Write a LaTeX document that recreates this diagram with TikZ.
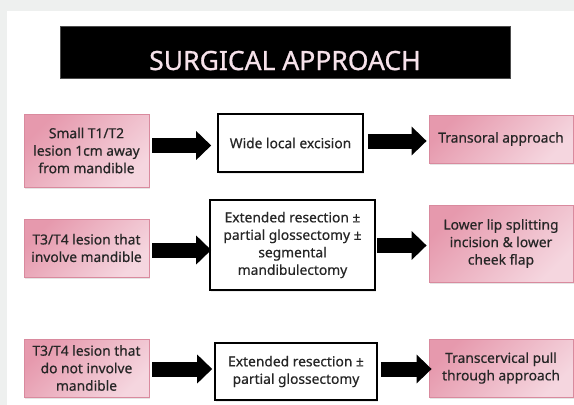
\documentclass[tikz,border=0pt]{standalone}
\usepackage{fontspec}
\setmainfont{Noto Sans}
\newfontfamily\heavyfont{Noto Sans}[FakeBold=0.5]
\newfontfamily\titlefont{Noto Sans}[FakeBold=0.8]
\usetikzlibrary{arrows.meta,shadows,calc}
\definecolor{bggray}{HTML}{EEF0EF}
\definecolor{pinkdark}{HTML}{E699AD}
\definecolor{pinklight}{HTML}{F5D6DF}
\definecolor{pinkborder}{HTML}{D98A9E}
\definecolor{titletext}{HTML}{F6E2EA}
\definecolor{boxtext}{HTML}{262626}
\begin{document}
\begin{tikzpicture}[x=1pt,y=-1pt,
  pinkbox/.style={draw=pinkborder, line width=0.8pt, top color=pinkdark, bottom color=pinklight, shading angle=45,
    drop shadow={shadow xshift=1pt, shadow yshift=-1.5pt, opacity=0.2},
    inner sep=0pt, align=center, font=\heavyfont\fontsize{13.8}{17.5}\selectfont, text=boxtext},
  whitebox/.style={draw=black, line width=1.6pt, fill=white,
    drop shadow={shadow xshift=1pt, shadow yshift=-1.5pt, opacity=0.15},
    inner sep=0pt, align=center, font=\heavyfont\fontsize{13.8}{17.5}\selectfont, text=boxtext},
  blk/.style={line width=15pt, black, -{Triangle[length=15pt,width=28pt]}}]
\useasboundingbox (0,0) rectangle (574,405);
\fill[bggray] (0,0) rectangle (574,405);
\fill[white] (7,11) rectangle (574,405);
% title
\node[fill=black, draw=black!70, line width=0.5pt, minimum width=450pt, minimum height=52pt, inner sep=0pt,
  text height=40pt, text depth=4pt,
  text=titletext, font=\titlefont\fontsize{26.5}{30}\selectfont] (title) at (285,52) {SURGICAL APPROACH};
% row 1
\node[pinkbox, minimum width=125pt, minimum height=73pt] (L1) at (86.5,150.5) {Small T1/T2\\lesion 1cm away\\from mandible};
\node[whitebox, minimum width=145pt, minimum height=58pt] (M1) at (290.5,143) {Wide local excision};
\node[pinkbox, minimum width=144pt, minimum height=48pt] (R1) at (501,139) {Transoral approach};
% row 2
\node[pinkbox, minimum width=125pt, minimum height=58pt] (L2) at (86.5,248) {T3/T4 lesion that\\involve mandible};
\node[whitebox, minimum width=165pt, minimum height=90pt] (M2) at (292.5,245) {Extended resection ±\\partial glossectomy ±\\segmental\\mandibulectomy};
\node[pinkbox, minimum width=144pt, minimum height=77pt] (R2) at (501,243.5) {Lower lip splitting\\incision \& lower\\cheek flap};
% row 3
\node[pinkbox, minimum width=125pt, minimum height=58pt] (L3) at (86.5,368) {T3/T4 lesion that\\do not involve\\mandible};
\node[whitebox, minimum width=162pt, minimum height=57pt] (M3) at (296,371.5) {Extended resection ±\\partial glossectomy};
\node[pinkbox, minimum width=144pt, minimum height=58pt] (R3) at (501,368) {Transcervical pull\\through approach};
% arrows
\coordinate (a1) at (0,145.5);
\coordinate (a2) at (0,141);
\coordinate (a3) at (0,250);
\coordinate (a4) at (0,245.5);
\coordinate (a5) at (0,369);
\coordinate (a6) at (0,369);
\draw[blk] ([xshift=3pt]L1.east |- a1) -- ([xshift=-6pt]M1.west |- a1);
\draw[blk] ([xshift=4pt]M1.east |- a2) -- ([xshift=-2pt]R1.west |- a2);
\draw[blk] ([xshift=3pt]L2.east |- a3) -- ([xshift=2pt]M2.west |- a3);
\draw[blk] ([xshift=1pt]M2.east |- a4) -- ([xshift=-2pt]R2.west |- a4);
\draw[blk] ([xshift=3pt]L3.east |- a5) -- ([xshift=-2pt]M3.west |- a5);
\draw[blk] ([xshift=3pt]M3.east |- a6) -- ([xshift=3pt]R3.west |- a6);
\end{tikzpicture}
\end{document}
